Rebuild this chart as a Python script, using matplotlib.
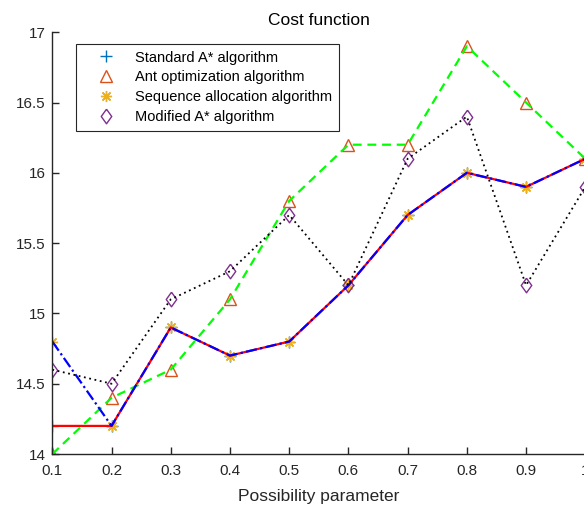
import matplotlib.pyplot as plt
import numpy as np
from matplotlib.ticker import FuncFormatter

plt.rcParams['font.family'] = ['Liberation Sans', 'DejaVu Sans']

# possibility parameter
x = [0.1, 0.2, 0.3, 0.4, 0.5, 0.6, 0.7, 0.8, 0.9, 1.0]

# cost for each algorithm
standard_astar = [14.2, 14.2, 14.9, 14.7, 14.8, 15.2, 15.7, 16.0, 15.9, 16.1]
ant_opt = [14.0, 14.4, 14.6, 15.1, 15.8, 16.2, 16.2, 16.9, 16.5, 16.1]
seq_alloc = [14.8, 14.2, 14.9, 14.7, 14.8, 15.2, 15.7, 16.0, 15.9, 16.1]
modified_astar = [14.6, 14.5, 15.1, 15.3, 15.7, 15.2, 16.1, 16.4, 15.2, 15.9]

labels = ["Standard A* algorithm", "Ant optimization algorithm",
          "Sequence allocation algorithm", "Modified A* algorithm"]

gray = '#262626'
# matlab-like diamond, a bit wider than mpl's thin 'd'
diamond = [(0, 0.5), (0.36, 0), (0, -0.5), (-0.36, 0), (0, 0.5)]

fig = plt.figure(figsize=(5.84, 5.09), dpi=100)
ax = fig.add_axes([0.0896, 0.108, 0.9126, 0.8287])

# markers first (they make the legend), lines drawn on top afterwards
ax.plot(x, standard_astar, linestyle='none', marker='+', ms=8, mew=1.0,
        color='#0072BD', label=labels[0])
ax.plot(x, ant_opt, linestyle='none', marker='^', ms=9, mew=1.0,
        mfc='none', color='#D95319', label=labels[1])
ax.plot(x, seq_alloc, linestyle='none', marker=(8, 2, 0), ms=8, mew=1.0,
        color='#EDB120', label=labels[2])
ax.plot(x, modified_astar, linestyle='none', marker=diamond, ms=10.5, mew=1.0,
        mfc='none', color='#7E2F8E', label=labels[3])

ax.plot(x, standard_astar, '-', color='red', lw=1.6)
ax.plot(x, ant_opt, color=(0, 1, 0), lw=1.6, linestyle=(0, (4, 2.6)))
ax.plot(x, seq_alloc, color='blue', lw=1.6, linestyle=(0, (5, 1.5, 1, 1.5)))
ax.plot(x, modified_astar, color='black', lw=1.3, linestyle=(0, (1, 2)))

ax.set_xlim(0.1, 1.0)
ax.set_ylim(14, 17)
ax.set_xticks(np.round(np.arange(0.1, 1.01, 0.1), 1))
ax.set_yticks(np.arange(14, 17.01, 0.5))
fmt = FuncFormatter(lambda v, p: '%g' % round(v, 2))
ax.xaxis.set_major_formatter(fmt)
ax.yaxis.set_major_formatter(fmt)

ax.spines['top'].set_visible(False)
ax.spines['right'].set_visible(False)
for s in ('left', 'bottom'):
    ax.spines[s].set_color(gray)
    ax.spines[s].set_linewidth(1.0)
ax.tick_params(direction='in', length=5, width=1.0, color=gray,
               labelcolor=gray, labelsize=11)
ax.tick_params(axis='y', pad=5)
ax.tick_params(axis='x', pad=7)

ax.set_title("Cost function", fontsize=12.5, color='black', pad=5)
ax.set_xlabel("Possibility parameter", fontsize=12.5, color=gray, labelpad=8)

leg = ax.legend(loc='upper left', bbox_to_anchor=(0.0445, 0.972),
                borderaxespad=0, fontsize=10.5, fancybox=False,
                edgecolor=gray, framealpha=1, handlelength=3.2,
                handletextpad=0.4, labelspacing=0.4, borderpad=0.45)
leg.get_frame().set_linewidth(0.8)

fig.savefig('out.png', dpi=100)
